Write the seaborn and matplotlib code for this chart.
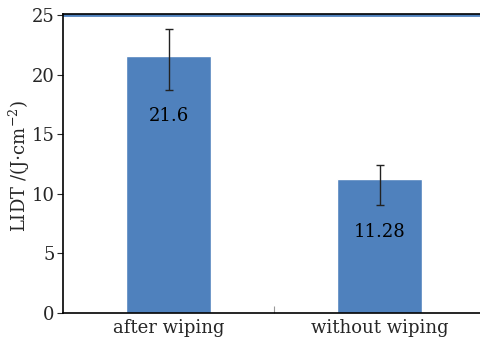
import numpy as np
import pandas as pd
import seaborn as sns
import matplotlib.pyplot as plt

# data
categories = ['after wiping', 'without wiping']
lidt = [21.6, 11.28]
err_low = [18.7, 9.1]
err_high = [23.8, 12.4]
labels = ['21.6', '11.28']

sns.set_style('white')
plt.rcParams['font.family'] = ['DejaVu Serif']
plt.rcParams['mathtext.fontset'] = 'dejavuserif'

bar_color = '#4f81bd'
label_offsets = [5.1, 4.5]  # how far below the bar top the value text sits

fig = plt.figure(figsize=(4.81, 3.41), dpi=100)
ax = fig.add_axes([0.131, 0.082, 0.869, 0.877])

df = pd.DataFrame({'cat': categories, 'val': lidt})
sns.barplot(data=df, x='cat', y='val', color=bar_color, saturation=1,
            width=0.4, errorbar=None, ax=ax)

x = np.arange(len(categories))
yerr = [np.array(lidt) - np.array(err_low), np.array(err_high) - np.array(lidt)]
ax.errorbar(x, lidt, yerr=yerr, fmt='none', ecolor='#222222',
            elinewidth=1.0, capsize=3, capthick=1.0)

for xi, v, lab, off in zip(x, lidt, labels, label_offsets):
    ax.text(xi, v - off, lab, ha='center', va='center', fontsize=13, color='black')

ax.axhline(25, color=bar_color, lw=2, zorder=1)
ax.set_ylim(0, 25.1)
ax.set_xlim(-0.5, 1.48)
ax.set_yticks([0, 5, 10, 15, 20, 25])
ax.set_xlabel('')
ax.set_ylabel('LIDT /(J$\\cdot$cm$^{-2}$)', fontsize=13)
ax.yaxis.set_label_coords(-0.074, 0.49)

for s in ['left', 'bottom', 'top']:
    ax.spines[s].set_color('black')
    ax.spines[s].set_linewidth(1.2)
ax.spines['right'].set_visible(False)

ax.tick_params(axis='y', which='major', direction='out', length=4, width=0.8,
               left=True, labelsize=13, pad=2)
ax.tick_params(axis='x', which='major', length=0, labelsize=13, pad=4)
ax.set_xticks([0.5], minor=True)
ax.tick_params(axis='x', which='minor', direction='in', length=5, width=0.8,
               color='#999999', bottom=True)

fig.savefig('out.png', dpi=100)
